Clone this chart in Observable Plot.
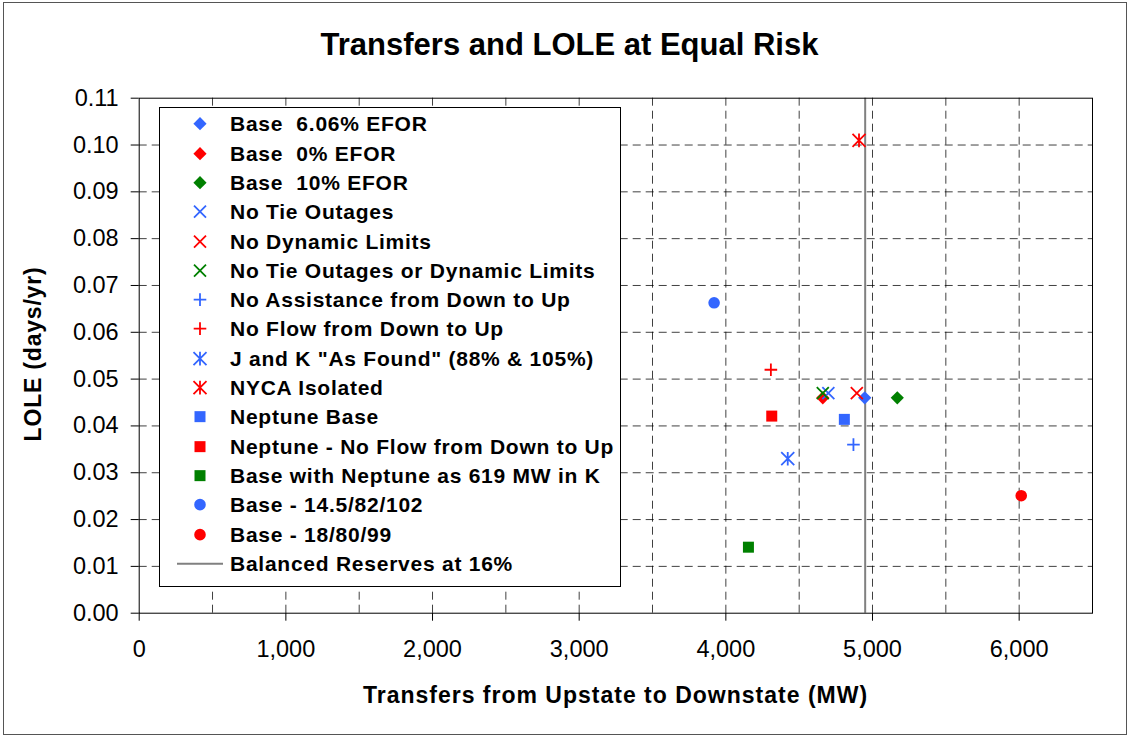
<!DOCTYPE html>
<html>
<head>
<meta charset="utf-8">
<script src="https://cdn.jsdelivr.net/npm/d3@7"></script>
<script src="https://cdn.jsdelivr.net/npm/@observablehq/plot@0.6"></script>
<style>
  html, body { margin: 0; padding: 0; background: #fff; }
  #wrap { position: relative; width: 1130px; height: 736px; overflow: hidden; font-family: "Liberation Sans", Arial, sans-serif; color: #000; }
  #border { position: absolute; left: 3px; top: 2px; width: 1122px; height: 731px; border: 1px solid #555; box-sizing: content-box; pointer-events: none; }
  #chart { position: absolute; left: 0; top: 0; }
  .title { position: absolute; left: 0; width: 1139px; top: 27px; text-align: center; font-size: 31px; font-weight: bold; line-height: 36px; }
  .xlabel { position: absolute; left: 0; width: 1231px; top: 680px; text-align: center; font-size: 23px; font-weight: bold; letter-spacing: 1px; line-height: 30px; }
  .ylabel { position: absolute; left: 33px; top: 354px; transform: translate(-50%, -50%) rotate(-90deg); white-space: nowrap; font-size: 23px; font-weight: bold; letter-spacing: 0.8px; line-height: 30px; }
  #legend { position: absolute; left: 159px; top: 107px; width: 460px; height: 478px; border: 1px solid #000; background: #fff; }
  .row { position: absolute; left: 0; height: 29.3px; width: 460px; }
  .row svg { position: absolute; left: 15px; top: 0; }
  .row span { position: absolute; left: 70px; top: 0; line-height: 29.3px; font-size: 21px; font-weight: bold; letter-spacing: 0.75px; white-space: pre; }
</style>
</head>
<body>
<div id="wrap">
  <div id="chart"></div>
  <div class="title">Transfers and LOLE at Equal Risk</div>
  <div class="xlabel">Transfers from Upstate to Downstate (MW)</div>
  <div class="ylabel">LOLE (days/yr)</div>
  <div id="legend"></div>
  <div id="border"></div>
</div>
<script>
// ---- data ----
const seriesNames = [
  "Base  6.06% EFOR",
  "Base  0% EFOR",
  "Base  10% EFOR",
  "No Tie Outages",
  "No Dynamic Limits",
  "No Tie Outages or Dynamic Limits",
  "No Assistance from Down to Up",
  "No Flow from Down to Up",
  "J and K \"As Found\" (88% & 105%)",
  "NYCA Isolated",
  "Neptune Base",
  "Neptune - No Flow from Down to Up",
  "Base with Neptune as 619 MW in K",
  "Base - 14.5/82/102",
  "Base - 18/80/99"
];
const xValues = [4947, 4661, 5169, 4699, 4893, 4661, 4870, 4307, 4422, 4908, 4808, 4313, 4154, 3920, 6014];
const yValues = [0.046, 0.046, 0.046, 0.047, 0.047, 0.047, 0.036, 0.052, 0.033, 0.101, 0.0414, 0.0421, 0.0141, 0.0663, 0.0251];
const seriesColors = ["#3366FF", "#FF0000", "#008000", "#3366FF", "#FF0000", "#008000", "#3366FF", "#FF0000", "#3366FF", "#FF0000", "#3366FF", "#FF0000", "#008000", "#3366FF", "#FF0000"];
const seriesSymbols = ["diamond", "diamond", "diamond", "times", "times", "times", "plus", "plus", "asterisk", "asterisk", "square", "square", "square", "circle", "circle"];
const balancedLabel = "Balanced Reserves at 16%";
const balancedReserve = 4950;
const xTicks = [0, 1000, 2000, 3000, 4000, 5000, 6000];
const xGrid = [500, 1000, 1500, 2000, 2500, 3000, 3500, 4000, 4500, 5000, 5500, 6000];
const yTicks = [0, 0.01, 0.02, 0.03, 0.04, 0.05, 0.06, 0.07, 0.08, 0.09, 0.10, 0.11];
const yGrid = [0.01, 0.02, 0.03, 0.04, 0.05, 0.06, 0.07, 0.08, 0.09, 0.10];

// ---- symbol shapes ----
const symbolDefs = {
  diamond: { draw(c, s) { const h = Math.sqrt(s / Math.PI); c.moveTo(0, -h); c.lineTo(h, 0); c.lineTo(0, h); c.lineTo(-h, 0); c.closePath(); } },
  square: { draw(c, s) { const h = Math.sqrt(s / Math.PI); c.rect(-h, -h, 2 * h, 2 * h); } },
  circle: { draw(c, s) { const h = Math.sqrt(s / Math.PI); c.moveTo(h, 0); c.arc(0, 0, h, 0, 2 * Math.PI); } },
  times: { draw(c, s) { const h = Math.sqrt(s / Math.PI); c.moveTo(-h, -h); c.lineTo(h, h); c.moveTo(h, -h); c.lineTo(-h, h); } },
  plus: { draw(c, s) { const h = Math.sqrt(s / Math.PI); c.moveTo(0, -h); c.lineTo(0, h); c.moveTo(-h, 0); c.lineTo(h, 0); } },
  asterisk: { draw(c, s) { const h = Math.sqrt(s / Math.PI); c.moveTo(-h, -h); c.lineTo(h, h); c.moveTo(h, -h); c.lineTo(-h, h); c.moveTo(0, -h * 1.05); c.lineTo(0, h * 1.05); } }
};
const symbolRadius = { diamond: 6.6, square: 5.5, circle: 5.8, times: 6, plus: 6.3, asterisk: 6.5 };
const filledSymbols = new Set(["diamond", "square", "circle"]);

const dotMarks = seriesNames.map((name, i) => {
  const sym = seriesSymbols[i];
  const filled = filledSymbols.has(sym);
  return Plot.dot([{ x: xValues[i], y: yValues[i] }], {
    x: "x", y: "y",
    symbol: symbolDefs[sym],
    r: symbolRadius[sym],
    fill: filled ? seriesColors[i] : "none",
    stroke: filled ? "none" : seriesColors[i],
    strokeWidth: filled ? 0 : 1.8
  });
});

const chart = Plot.plot({
  width: 1130,
  height: 736,
  marginLeft: 138.7,
  marginRight: 38,
  marginTop: 97.7,
  marginBottom: 123.3,
  style: { fontFamily: "'Liberation Sans', Arial, sans-serif", background: "transparent", color: "#000" },
  x: { domain: [0, 6500], nice: false },
  y: { domain: [0, 0.11], nice: false },
  marks: [
    Plot.ruleX(xGrid, { stroke: "#000", strokeOpacity: 0.75, strokeDasharray: "8,5", strokeWidth: 1 }),
    Plot.ruleY(yGrid, { stroke: "#000", strokeOpacity: 0.75, strokeDasharray: "8,5", strokeWidth: 1 }),
    Plot.ruleX([balancedReserve], { stroke: "#808080", strokeWidth: 2 }),
    Plot.frame({ stroke: "#000", strokeWidth: 1 }),
    Plot.axisX({ ticks: xTicks, tickFormat: d3.format(","), tickSize: 8, tickPadding: 19, fontSize: 23.5, label: null, stroke: "#000" }),
    Plot.axisY({ ticks: yTicks, tickFormat: d3.format(".2f"), tickSize: 8, tickPadding: 12.5, fontSize: 23.5, label: null, stroke: "#000" }),
    ...dotMarks
  ]
});
document.getElementById("chart").appendChild(chart);

// ---- legend ----
const legend = document.getElementById("legend");
const rowTop0 = 124 - 107 - 1 - 14.65;
const rowStep = 29.3;
function addRow(i, label, drawFn) {
  const row = document.createElement("div");
  row.className = "row";
  row.style.top = (rowTop0 + i * rowStep) + "px";
  const svg = d3.create("svg").attr("width", 60).attr("height", 29.3);
  drawFn(svg);
  row.appendChild(svg.node());
  const span = document.createElement("span");
  span.textContent = label;
  row.appendChild(span);
  legend.appendChild(row);
}
seriesNames.forEach((name, i) => {
  const sym = seriesSymbols[i];
  const filled = filledSymbols.has(sym);
  addRow(i, name, svg => {
    const r = symbolRadius[sym];
    svg.append("path")
      .attr("transform", "translate(25,14.65)")
      .attr("d", d3.symbol(symbolDefs[sym], r * r * Math.PI)())
      .attr("fill", filled ? seriesColors[i] : "none")
      .attr("stroke", filled ? "none" : seriesColors[i])
      .attr("stroke-width", filled ? 0 : 1.8);
  });
});
addRow(seriesNames.length, balancedLabel, svg => {
  svg.append("line").attr("x1", 2).attr("x2", 48).attr("y1", 14.65).attr("y2", 14.65)
    .attr("stroke", "#808080").attr("stroke-width", 2);
});
</script>
</body>
</html>
